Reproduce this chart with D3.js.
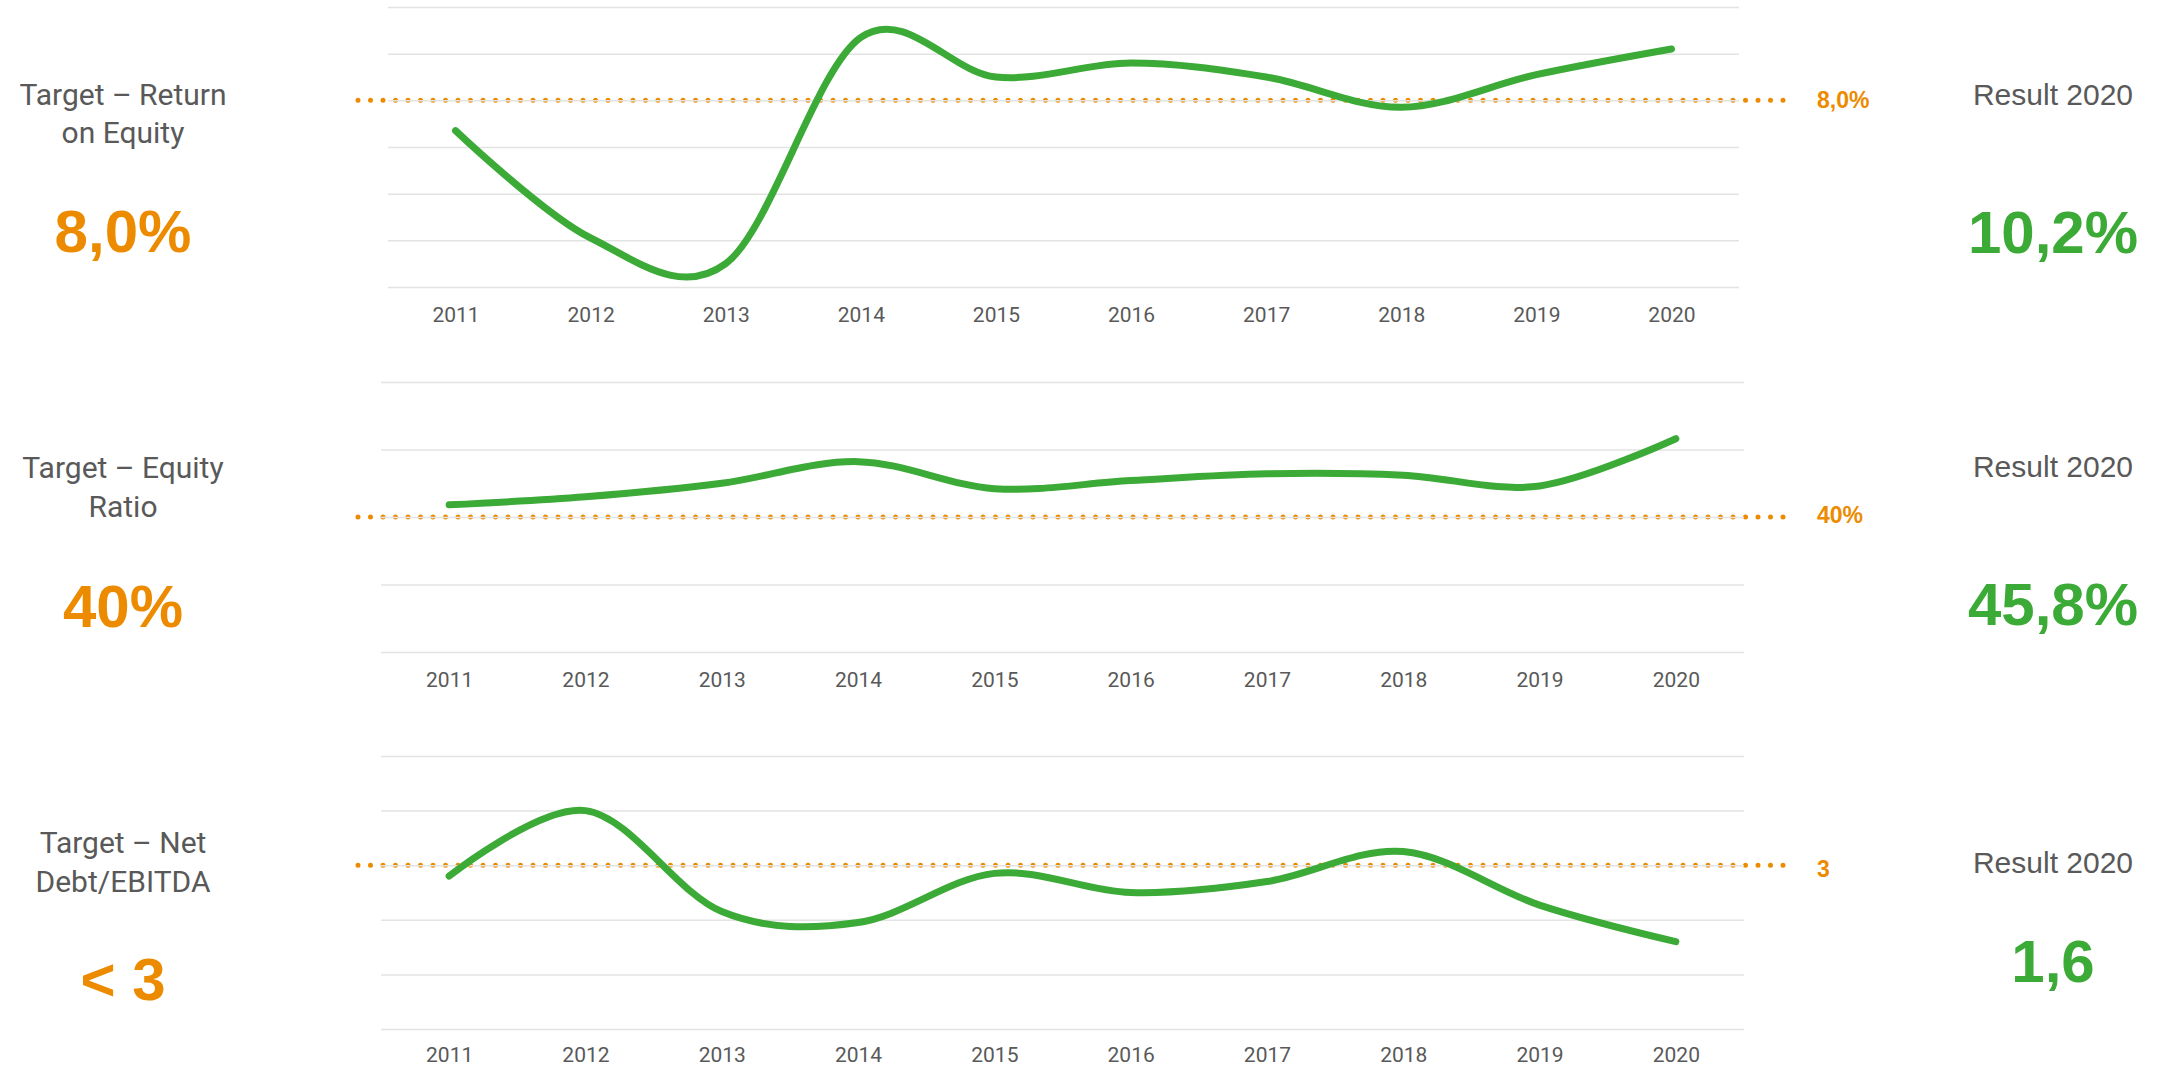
<!DOCTYPE html>
<html>
<head>
<meta charset="utf-8">
<script src="https://cdn.jsdelivr.net/npm/d3@7"></script>
<style>
  body { margin: 0; background: #fff; }
  svg { display: block; }
</style>
</head>
<body>
<svg id="chart" width="2165" height="1068"></svg>
<script>
// data
const years = [2011, 2012, 2013, 2014, 2015, 2016, 2017, 2018, 2019, 2020];
const roeValues = [6.7, 2.1, 1.0, 10.7, 9.0, 9.6, 9.0, 7.7, 9.1, 10.2];
const equityValues = [40.9, 41.5, 42.5, 44.1, 42.1, 42.7, 43.2, 43.1, 42.3, 45.8];
const netDebtValues = [2.8, 4.0, 2.15, 1.95, 2.85, 2.5, 2.7, 3.25, 2.27, 1.6];

const roeTicks = [0, 2, 4, 6, 8, 10, 12];
const equityTicks = [30, 35, 40, 45, 50];
const netDebtTicks = [0, 1, 2, 3, 4, 5];

const targets = [8, 40, 3];
const targetTitles = [["Target – Return", "on Equity"], ["Target – Equity", "Ratio"], ["Target – Net", "Debt/EBITDA"]];
const targetTexts = ["8,0%", "40%", "< 3"];
const targetLineLabels = ["8,0%", "40%", "3"];
const resultTitle = "Result 2020";
const resultTexts = ["10,2%", "45,8%", "1,6"];

const svg = d3.select("#chart");
const orange = "#ec8b00";
const green = "#3caa36";
const grey = "#595959";
const gridColor = "#e3e3e3";

// layout of the three panels (pixels)
const panels = [
    { values: roeValues, ticks: roeTicks, left: 388, right: 1739, top: 7, bottom: 287, yearY: 35,
      titleY: [105, 143], bigY: 252, resultTitleY: 105, resultY: 253, lineLabelY: 108 },
    { values: equityValues, ticks: equityTicks, left: 381, right: 1744, top: 382, bottom: 652, yearY: 35,
      titleY: [478, 517], bigY: 627, resultTitleY: 477, resultY: 625, lineLabelY: 523 },
    { values: netDebtValues, ticks: netDebtTicks, left: 381, right: 1744, top: 756, bottom: 1029, yearY: 33,
      titleY: [853, 892], bigY: 1000, resultTitleY: 873, resultY: 982, lineLabelY: 877 }
];

function drawPanel(p, i) {
    const g = svg.append("g");

    const x = d3.scalePoint()
        .domain(years)
        .range([p.left, p.right])
        .padding(0.5);

    const y = d3.scaleLinear()
        .domain(d3.extent(p.ticks))
        .range([p.bottom, p.top]);

    // dotted target line (under the gridlines)
    g.append("line")
        .attr("x1", 358)
        .attr("x2", 1790)
        .attr("y1", y(targets[i]))
        .attr("y2", y(targets[i]))
        .attr("stroke", orange)
        .attr("stroke-width", 5)
        .attr("stroke-linecap", "round")
        .attr("stroke-dasharray", "0 12.5");

    // gridlines
    const grid = g.append("g")
        .attr("transform", `translate(${p.left},0)`)
        .call(d3.axisLeft(y)
            .tickValues(p.ticks)
            .tickSize(-(p.right - p.left))
            .tickFormat(""));
    grid.select(".domain").remove();
    grid.selectAll("line")
        .attr("stroke", gridColor)
        .attr("stroke-width", 1.5);

    // year labels
    const xAxis = g.append("g")
        .attr("transform", `translate(0,${p.bottom})`)
        .call(d3.axisBottom(x).tickSize(0));
    xAxis.select(".domain").remove();
    xAxis.selectAll("text")
        .attr("y", p.yearY)
        .attr("dy", 0)
        .attr("fill", grey)
        .style("font-family", "Roboto")
        .style("font-size", "21px");

    // the series line
    const line = d3.line()
        .x((d, j) => x(years[j]))
        .y(d => y(d))
        .curve(d3.curveCardinal.tension(0));

    g.append("path")
        .datum(p.values)
        .attr("d", line)
        .attr("fill", "none")
        .attr("stroke", green)
        .attr("stroke-width", 7)
        .attr("stroke-linecap", "round")
        .attr("stroke-linejoin", "round");

    // label at the end of the target line
    g.append("text")
        .attr("x", 1817)
        .attr("y", p.lineLabelY)
        .attr("fill", orange)
        .style("font-family", "Liberation Sans")
        .style("font-weight", "bold")
        .style("font-size", "23px")
        .text(targetLineLabels[i]);

    // left side: target title and value
    targetTitles[i].forEach((t, k) => {
        g.append("text")
            .attr("x", 123)
            .attr("y", p.titleY[k])
            .attr("text-anchor", "middle")
            .attr("fill", grey)
            .style("font-family", "Roboto")
            .style("font-size", "30px")
            .text(t);
    });

    g.append("text")
        .attr("x", 123)
        .attr("y", p.bigY)
        .attr("text-anchor", "middle")
        .attr("fill", orange)
        .style("font-family", "Liberation Sans")
        .style("font-weight", "bold")
        .style("font-size", "60px")
        .text(targetTexts[i]);

    // right side: result
    g.append("text")
        .attr("x", 2053)
        .attr("y", p.resultTitleY)
        .attr("text-anchor", "middle")
        .attr("fill", grey)
        .style("font-family", "Liberation Sans")
        .style("font-size", "30px")
        .text(resultTitle);

    g.append("text")
        .attr("x", 2053)
        .attr("y", p.resultY)
        .attr("text-anchor", "middle")
        .attr("fill", green)
        .style("font-family", "Liberation Sans")
        .style("font-weight", "bold")
        .style("font-size", "60px")
        .text(resultTexts[i]);
}

panels.forEach(drawPanel);
</script>
</body>
</html>
